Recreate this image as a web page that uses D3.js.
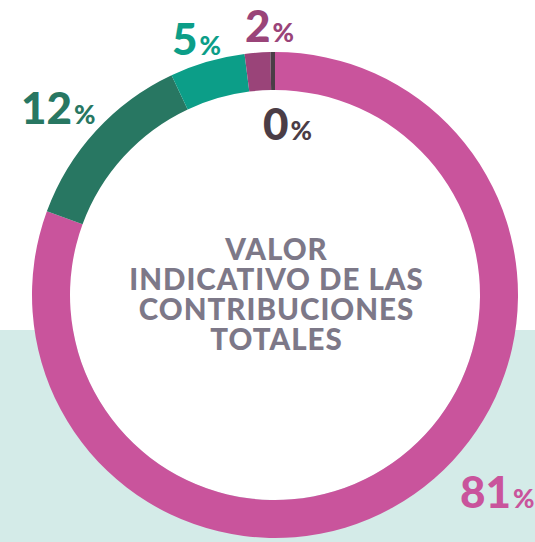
<!DOCTYPE html>
<html>
<head>
<meta charset="utf-8">
<script src="https://cdn.jsdelivr.net/npm/d3@7"></script>
<style>
  html, body { margin: 0; padding: 0; background: #fff; }
  svg { display: block; font-family: Lato, "Open Sans", sans-serif; }
</style>
</head>
<body>
<div id="chart"></div>
<script>
// slices, clockwise from 12 o'clock
const categories = ["main", "groupB", "groupC", "groupD", "other"];
const values = [80.6, 12.4, 5.0, 1.7, 0.3];
const labels = ["81", "12", "5", "2", "0"];
const centerLines = ["VALOR", "INDICATIVO DE LAS", "CONTRIBUCIONES", "TOTALES"];

const width = 535, height = 542;
const cx = 275, cy = 295;
const outerR = 243, innerR = 205;

const color = d3.scaleOrdinal()
    .domain(categories)
    .range(["#c9549c", "#287762", "#0c9e88", "#9a4479", "#4b3d46"]);

// where each label sits, relative to the centre (text start, baseline)
const labelOffset = {
    main:   [185, 213],
    groupB: [-254, -171],
    groupC: [-103, -240],
    groupD: [-30, -253],
    other:  [-12, -155]
};

const svg = d3.select("#chart")
    .append("svg")
    .attr("width", width)
    .attr("height", height);

// light band behind the lower half
svg.append("rect")
    .attr("x", 0)
    .attr("y", 330)
    .attr("width", width)
    .attr("height", height - 330)
    .attr("fill", "#d4ebe8");

const g = svg.append("g")
    .attr("transform", `translate(${cx},${cy})`);

g.append("circle")
    .attr("r", innerR)
    .attr("fill", "#fff");

const pie = d3.pie().sort(null).value(d => d.value);
const arc = d3.arc().innerRadius(innerR).outerRadius(outerR);

const slices = pie(categories.map((c, i) => ({key: c, value: values[i], label: labels[i]})));

g.selectAll("path.slice")
    .data(slices)
    .enter()
    .append("path")
    .attr("class", "slice")
    .attr("d", arc)
    .attr("fill", d => color(d.data.key));

// percentage labels
const lab = g.selectAll("text.pct")
    .data(slices)
    .enter()
    .append("text")
    .attr("class", "pct")
    .attr("x", d => labelOffset[d.data.key][0])
    .attr("y", d => labelOffset[d.data.key][1])
    .attr("fill", d => color(d.data.key))
    .style("font-weight", 900);

lab.append("tspan")
    .style("font-size", "44px")
    .text(d => d.data.label);

lab.append("tspan")
    .attr("dx", 2)
    .style("font-size", "26px")
    .text("%");

// centre title
g.append("text")
    .attr("text-anchor", "middle")
    .attr("fill", "#7d7888")
    .style("font-size", "29.5px")
    .style("font-weight", 900)
    .style("letter-spacing", "1px")
    .selectAll("tspan")
    .data(centerLines)
    .enter()
    .append("tspan")
    .attr("x", 1.5)
    .attr("y", (d, i) => -35 + i * 30)
    .text(d => d);
</script>
</body>
</html>
